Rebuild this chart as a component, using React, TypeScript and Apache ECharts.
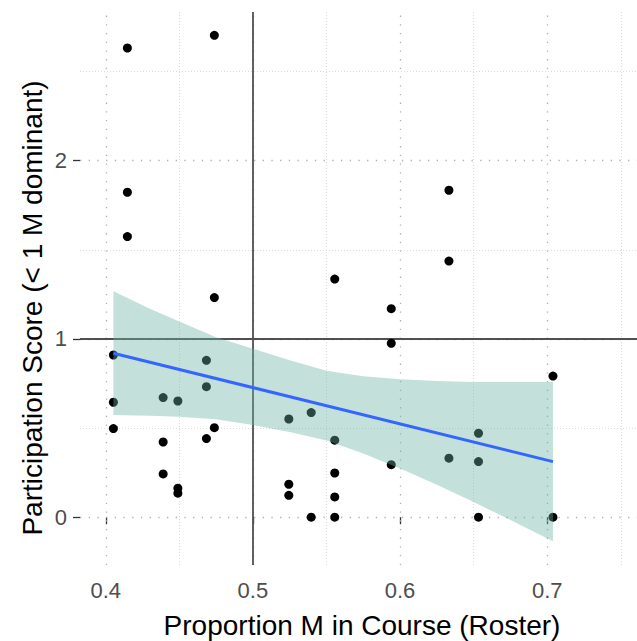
import React, { useEffect, useRef } from "react";
import * as echarts from "echarts";

// Observed points (proportion M in course, participation score)
const pointX = [
  0.4147, 0.4738, 0.4147, 0.4147, 0.4738, 0.5556, 0.4052, 0.4052, 0.4052, 0.439,
  0.449, 0.4684, 0.4684, 0.4738, 0.4684, 0.439, 0.439, 0.449, 0.449, 0.5244,
  0.5396, 0.5556, 0.5244, 0.5244, 0.5396, 0.5556, 0.5556, 0.5556, 0.594, 0.594,
  0.594, 0.6332, 0.6332, 0.6332, 0.6533, 0.6533, 0.6533, 0.7039, 0.7039,
];
const pointY = [
  2.632, 2.703, 1.823, 1.574, 1.232, 1.336, 0.91, 0.645, 0.497, 0.671,
  0.652, 0.88, 0.732, 0.5025, 0.441, 0.422, 0.243, 0.163, 0.135, 0.551,
  0.587, 0.432, 0.185, 0.123, 0, 0.248, 0.114, 0, 1.17, 0.976,
  0.295, 1.834, 1.437, 0.331, 0.471, 0.312, 0, 0.792, 0,
];

// Fitted linear trend (endpoints) and its confidence band
const fitX = [0.4052, 0.7039];
const fitY = [0.92, 0.312];
const bandX = [0.4052, 0.43, 0.45, 0.475, 0.5, 0.525, 0.55, 0.575, 0.6, 0.625, 0.65, 0.675, 0.7039];
const bandLower = [0.573, 0.569, 0.563, 0.549, 0.517, 0.478, 0.43, 0.357, 0.274, 0.182, 0.085, -0.016, -0.135];
const bandUpper = [1.267, 1.169, 1.098, 1.01, 0.945, 0.88, 0.822, 0.791, 0.774, 0.764, 0.759, 0.758, 0.759];

// Axis ticks and grid lines
const xTicks = [0.4, 0.5, 0.6, 0.7];
const xMinor = [0.45, 0.55, 0.65, 0.75];
const yTicks = [0, 1, 2];
const yMinor = [0.5, 1.5, 2.5];
const refX = 0.5;
const refY = 1;

const xTitle = "Proportion M in Course (Roster)";
const yTitle = "Participation Score (< 1 M dominant)";

const FONT = "'Liberation Sans', Arial, sans-serif";

export default function App() {
  const ref = useRef<HTMLDivElement>(null);

  useEffect(() => {
    document.body.style.margin = "0";
    const chart = echarts.init(ref.current!, undefined, { renderer: "svg" });

    const major = { color: "#b0b0b0", width: 1.3, type: [1.3, 7.4] as any };
    const minor = { color: "#d2d2d2", width: 0.8, type: [1, 2] as any };

    const gridLines = [
      ...xTicks.map((v) => ({ xAxis: v, lineStyle: major })),
      ...xMinor.map((v) => ({ xAxis: v, lineStyle: minor })),
      ...yTicks.map((v) => ({ yAxis: v, lineStyle: major })),
      ...yMinor.map((v) => ({ yAxis: v, lineStyle: minor })),
    ];

    const points = pointX.map((x, i) => [x, pointY[i]]);
    const fit = fitX.map((x, i) => [x, fitY[i]]);

    chart.setOption({
      animation: false,
      backgroundColor: "#ffffff",
      textStyle: { fontFamily: FONT },
      grid: { left: 80, right: 0, top: 12, bottom: 76, containLabel: false },
      graphic: [
        {
          type: "text",
          x: 362,
          y: 625,
          style: {
            text: xTitle,
            fontSize: 28,
            fontFamily: FONT,
            fill: "#000000",
            align: "center",
            verticalAlign: "middle",
          },
        },
        {
          type: "text",
          x: 32,
          y: 308,
          rotation: Math.PI / 2,
          style: {
            text: yTitle,
            fontSize: 28,
            fontFamily: FONT,
            fill: "#000000",
            align: "center",
            verticalAlign: "middle",
          },
        },
      ],
      xAxis: {
        type: "value",
        min: 0.3825,
        max: 0.761,
        axisLine: { show: false },
        splitLine: { show: false },
        axisTick: {
          show: true,
          customValues: xTicks,
          length: 7,
          lineStyle: { color: "#333333", width: 1.3 },
        },
        axisLabel: {
          customValues: xTicks,
          fontSize: 22,
          color: "#4d4d4d",
          fontFamily: FONT,
          margin: 14,
          formatter: (v: number) => String(Math.round(v * 10) / 10),
        },
      },
      yAxis: {
        type: "value",
        min: -0.268,
        max: 2.834,
        axisLine: { show: false },
        splitLine: { show: false },
        axisTick: {
          show: true,
          customValues: yTicks,
          length: 7,
          lineStyle: { color: "#333333", width: 1.3 },
        },
        axisLabel: {
          customValues: yTicks,
          fontSize: 22,
          color: "#4d4d4d",
          fontFamily: FONT,
          margin: 13,
        },
      },
      series: [
        {
          type: "line",
          data: [],
          silent: true,
          z: 1,
          markLine: {
            z: 1,
            silent: true,
            symbol: ["none", "none"],
            label: { show: false },
            animation: false,
            data: gridLines,
          },
        },
        {
          type: "line",
          data: [],
          silent: true,
          z: 2,
          markLine: {
            z: 2,
            silent: true,
            symbol: ["none", "none"],
            label: { show: false },
            animation: false,
            lineStyle: { color: "#505050", width: 1.8, type: "solid" },
            data: [{ xAxis: refX }, { yAxis: refY }],
          },
        },
        {
          type: "scatter",
          data: points,
          symbolSize: 9,
          itemStyle: { color: "#000000", opacity: 1 },
          z: 3,
        },
        {
          type: "custom",
          z: 4,
          silent: true,
          data: [[bandX[0], bandLower[0]]],
          renderItem: (params: any, api: any) => {
            if (params.dataIndex !== 0) return null;
            const up = bandX.map((x, i) => api.coord([x, bandUpper[i]]));
            const lo = bandX.map((x, i) => api.coord([x, bandLower[i]])).reverse();
            return {
              type: "polygon",
              shape: { points: [...up, ...lo] },
              style: { fill: "rgba(105,179,162,0.4)", stroke: "none" },
            };
          },
        },
        {
          type: "line",
          data: fit,
          showSymbol: false,
          lineStyle: { color: "#3366ff", width: 3 },
          z: 5,
          silent: true,
        },
      ],
    });

    return () => chart.dispose();
  }, []);

  return <div ref={ref} style={{ width: 637, height: 641 }} />;
}
